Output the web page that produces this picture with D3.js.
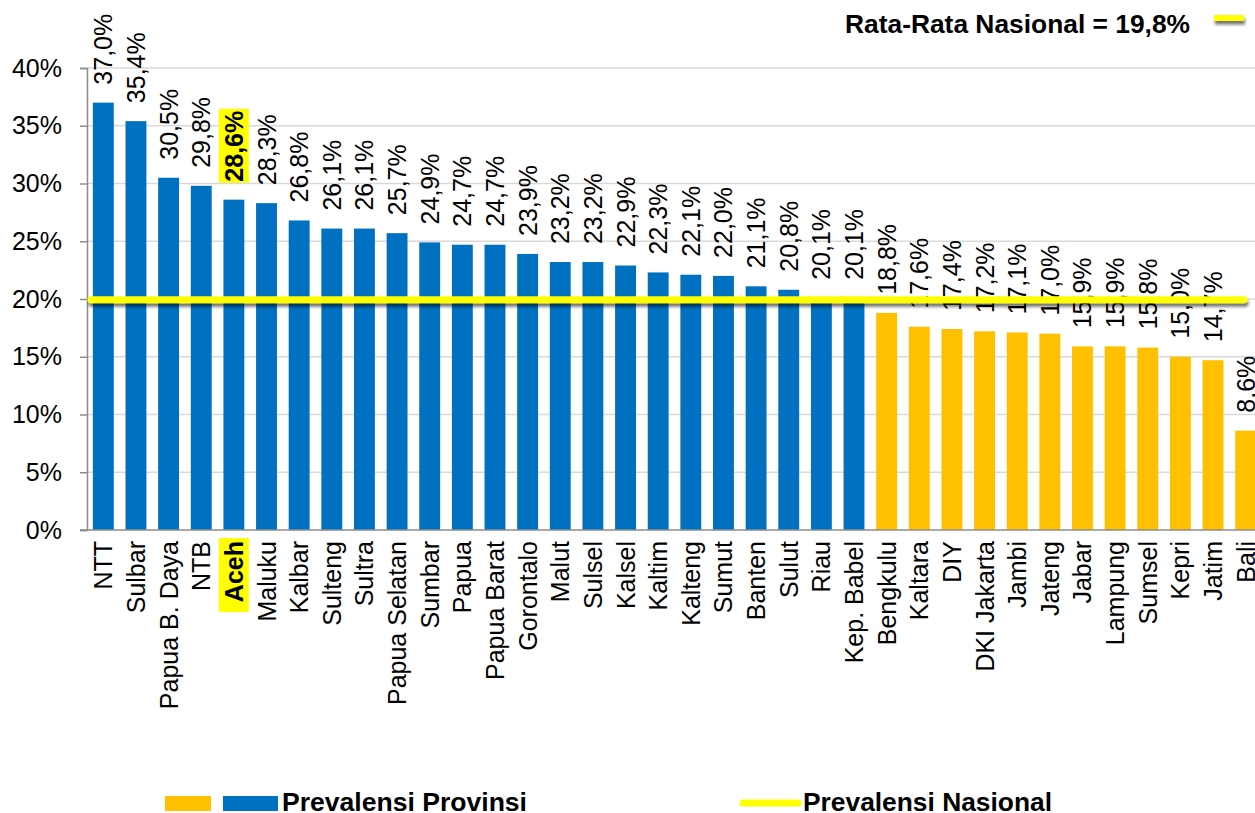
<!DOCTYPE html>
<html>
<head>
<meta charset="utf-8">
<script src="https://cdn.jsdelivr.net/npm/d3@7"></script>
<style>
  body { margin: 0; background: #fff; }
  text { font-family: "Liberation Sans", Arial, sans-serif; fill: #000; }
</style>
</head>
<body>
<svg id="chart"></svg>
<script>
// provinces, sorted the way the source chart has them
var provinces = ["NTT", "Sulbar", "Papua B. Daya", "NTB", "Aceh", "Maluku", "Kalbar", "Sulteng",
  "Sultra", "Papua Selatan", "Sumbar", "Papua", "Papua Barat", "Gorontalo", "Malut", "Sulsel",
  "Kalsel", "Kaltim", "Kalteng", "Sumut", "Banten", "Sulut", "Riau", "Kep. Babel", "Bengkulu",
  "Kaltara", "DIY", "DKI Jakarta", "Jambi", "Jateng", "Jabar", "Lampung", "Sumsel", "Kepri",
  "Jatim", "Bali"];
var prevalence = [37.0, 35.4, 30.5, 29.8, 28.6, 28.3, 26.8, 26.1, 26.1, 25.7, 24.9, 24.7, 24.7,
  23.9, 23.2, 23.2, 22.9, 22.3, 22.1, 22.0, 21.1, 20.8, 20.1, 20.1, 18.8, 17.6, 17.4, 17.2, 17.1,
  17.0, 15.9, 15.9, 15.8, 15.0, 14.7, 8.6];
var national = 19.8;
var yTicks = [0, 5, 10, 15, 20, 25, 30, 35, 40];
var highlight = "Aceh";

var data = provinces.map(function(p, i) { return { name: p, value: prevalence[i] }; });

var width = 1255, height = 813;
var plotLeft = 87, plotRight = 1262, plotTop = 68, plotBottom = 530;

var chart = d3.select('#chart')
  .attr('width', width)
  .attr('height', height);

// drop shadow for the yellow lines (user space, since a flat line has no bbox height)
var defs = chart.append('defs');
var shadow = defs.append('filter').attr('id', 'shadow')
  .attr('filterUnits', 'userSpaceOnUse')
  .attr('x', 0).attr('y', 0).attr('width', width).attr('height', height);
shadow.append('feDropShadow')
  .attr('dx', 1).attr('dy', 3.5).attr('stdDeviation', 1.8)
  .attr('flood-color', '#000').attr('flood-opacity', 0.55);

var yScale = d3.scaleLinear().domain([0, 40]).range([plotBottom, plotTop]);
var xScale = d3.scaleBand()
  .domain(provinces)
  .range([plotLeft, plotRight])
  .paddingInner(0.36)
  .paddingOuter(0.18);

function fmt(v) { return v.toFixed(1).replace('.', ',') + '%'; }

// grid lines
chart.append('g').selectAll('line')
  .data(yTicks.filter(function(t) { return t > 0; }))
  .enter().append('line')
    .attr('x1', plotLeft).attr('x2', width)
    .attr('y1', function(d) { return yScale(d); })
    .attr('y2', function(d) { return yScale(d); })
    .attr('stroke', '#d9d9d9').attr('stroke-width', 1.5);

// y axis
var yAxis = chart.append('g')
  .attr('transform', 'translate(' + plotLeft + ',0)')
  .call(d3.axisLeft(yScale).tickValues(yTicks).tickSize(7).tickPadding(18)
    .tickFormat(function(d) { return d + '%'; }));
yAxis.select('.domain').attr('stroke', '#8c8c8c').attr('stroke-width', 1.5);
yAxis.selectAll('.tick line').attr('stroke', '#8c8c8c').attr('stroke-width', 1.5);
yAxis.selectAll('.tick text')
  .style('font-family', '"Liberation Sans", Arial, sans-serif')
  .style('font-size', '25px').attr('fill', '#000');

// bars
chart.append('g').selectAll('.bar')
  .data(data)
  .enter().append('rect')
    .attr('class', 'bar')
    .attr('x', function(d) { return xScale(d.name); })
    .attr('y', function(d) { return yScale(d.value); })
    .attr('width', xScale.bandwidth())
    .attr('height', function(d) { return plotBottom - yScale(d.value); })
    .attr('fill', function(d) { return d.value > national ? '#0070C0' : '#FFC000'; });

// x axis baseline
chart.append('line')
  .attr('x1', plotLeft - 7).attr('x2', width)
  .attr('y1', plotBottom).attr('y2', plotBottom)
  .attr('stroke', '#8c8c8c').attr('stroke-width', 1.5);

// value labels
var vl = chart.append('g').selectAll('g')
  .data(data)
  .enter().append('g')
    .attr('transform', function(d) {
      return 'translate(' + (xScale(d.name) + xScale.bandwidth() / 2) + ',' + (yScale(d.value) - 18) + ') rotate(-90)';
    });
vl.append('text')
  .attr('dy', '0.36em')
  .style('font-size', '25px')
  .style('font-weight', function(d) { return d.name === highlight ? 'bold' : 'normal'; })
  .text(function(d) { return fmt(d.value); });

// category labels
var cl = chart.append('g').selectAll('g')
  .data(data)
  .enter().append('g')
    .attr('transform', function(d) {
      return 'translate(' + (xScale(d.name) + xScale.bandwidth() / 2) + ',' + (plotBottom + 11) + ') rotate(-90)';
    });
cl.append('text')
  .attr('dy', '0.36em')
  .attr('text-anchor', 'end')
  .style('font-size', '25px')
  .style('font-weight', function(d) { return d.name === highlight ? 'bold' : 'normal'; })
  .text(function(d) { return d.name; });

// yellow boxes behind the highlighted labels
[vl, cl].forEach(function(sel) {
  sel.filter(function(d) { return d.name === highlight; }).each(function() {
    var g = d3.select(this);
    var b = g.select('text').node().getBBox();
    var isCat = sel === cl;
    g.insert('rect', 'text')
      .attr('x', b.x - (isCat ? 10 : 1)).attr('width', b.width + (isCat ? 13 : 3))
      .attr('y', b.y - 1).attr('height', b.height + 2)
      .attr('fill', '#FFFF00');
  });
});

// national average line
chart.append('line')
  .attr('x1', plotLeft + 4).attr('x2', 1244)
  .attr('y1', yScale(national) - 1.5).attr('y2', yScale(national) - 1.5)
  .attr('stroke', '#FFFF00').attr('stroke-width', 7)
  .attr('stroke-linecap', 'round')
  .attr('filter', 'url(#shadow)');

// top legend
chart.append('text')
  .attr('x', 845).attr('y', 33)
  .attr('textLength', 345).attr('lengthAdjust', 'spacingAndGlyphs')
  .style('font-size', '26px').style('font-weight', 'bold')
  .text('Rata-Rata Nasional = ' + fmt(national));
chart.append('line')
  .attr('x1', 1214).attr('x2', 1244).attr('y1', 18).attr('y2', 18)
  .attr('stroke', '#FFFF00').attr('stroke-width', 6)
  .attr('filter', 'url(#shadow)');

// bottom legend
var lg = chart.append('g');
lg.append('rect').attr('x', 165).attr('y', 796).attr('width', 46).attr('height', 15).attr('fill', '#FFC000');
lg.append('rect').attr('x', 223).attr('y', 796).attr('width', 55).attr('height', 15).attr('fill', '#0070C0');
lg.append('text').attr('x', 282).attr('y', 811)
  .attr('textLength', 245).attr('lengthAdjust', 'spacingAndGlyphs')
  .style('font-size', '25px').style('font-weight', 'bold')
  .text('Prevalensi Provinsi');
lg.append('line').attr('x1', 743).attr('x2', 798).attr('y1', 803).attr('y2', 803)
  .attr('stroke', '#FFFF00').attr('stroke-width', 7).attr('stroke-linecap', 'round');
lg.append('text').attr('x', 803).attr('y', 811)
  .attr('textLength', 249).attr('lengthAdjust', 'spacingAndGlyphs')
  .style('font-size', '25px').style('font-weight', 'bold')
  .text('Prevalensi Nasional');
</script>
</body>
</html>
